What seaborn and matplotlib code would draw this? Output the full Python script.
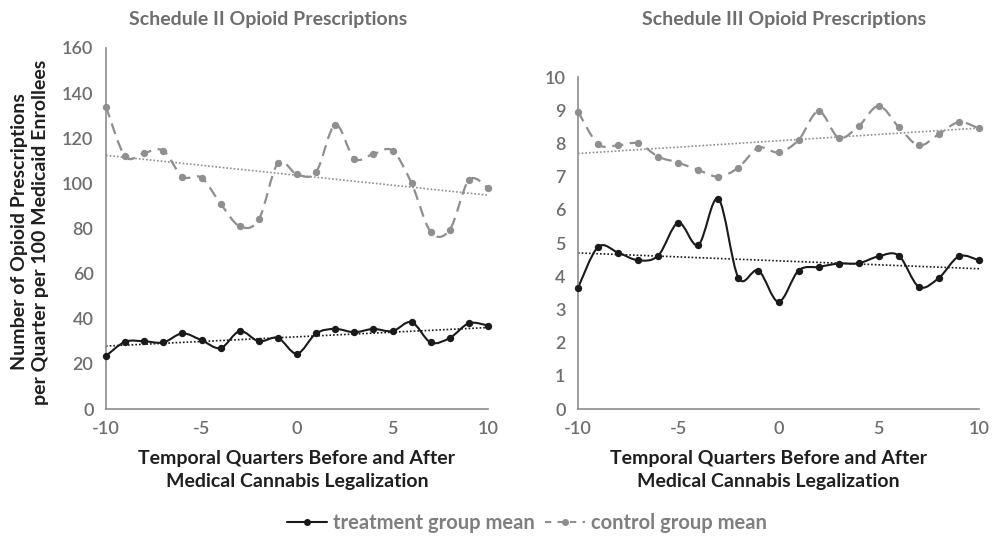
import numpy as np
import pandas as pd
import matplotlib
matplotlib.use("Agg")
import matplotlib.pyplot as plt
from matplotlib.path import Path
from matplotlib.patches import PathPatch
from matplotlib.lines import Line2D
import seaborn as sns

# quarters relative to legalization
quarters = list(range(-10, 11))

# Schedule II (per 100 enrollees)
sched2_treatment = [23.5, 29.8, 30.0, 29.5, 33.5, 30.5, 27.0, 34.5, 30.0, 31.5, 24.5,
                    33.5, 35.5, 34.0, 35.5, 34.5, 38.5, 29.5, 31.5, 38.0, 37.0]
sched2_control = [134.0, 112.0, 113.5, 114.5, 103.0, 102.5, 91.0, 81.0, 84.0, 109.0, 104.0,
                  105.0, 126.0, 111.0, 113.0, 114.5, 100.0, 78.5, 79.5, 101.5, 98.0]

# Schedule III
sched3_treatment = [3.65, 4.88, 4.71, 4.48, 4.62, 5.61, 4.94, 6.33, 3.95, 4.17, 3.23,
                    4.17, 4.28, 4.38, 4.39, 4.60, 4.62, 3.68, 3.95, 4.60, 4.48]
sched3_control = [8.96, 7.98, 7.94, 8.00, 7.60, 7.42, 7.20, 7.00, 7.27, 7.87, 7.73,
                  8.10, 8.97, 8.17, 8.52, 9.13, 8.49, 7.94, 8.28, 8.64, 8.45]

titles = ["Schedule II Opioid Prescriptions", "Schedule III Opioid Prescriptions"]
xlabel = "Temporal Quarters Before and After\nMedical Cannabis Legalization"
ylabel = "Number of Opioid Prescriptions\nper Quarter per 100 Medicaid Enrollees"

TXT = "#6e6e6e"
DARK = "#1f1f1f"
AX = "#8c8c8c"
TREAT = "#1a1a1a"
CTRL = "#8f8f8f"

sns.set_style("white")
plt.rcParams["font.family"] = ["Lato", "DejaVu Sans"]
plt.rcParams["axes.unicode_minus"] = False


def smooth_path(x, y):
    # excel-style smoothed line: cubic bezier segments through each point
    x = np.asarray(x, float)
    y = np.asarray(y, float)
    pts = np.column_stack([x, y])
    verts = [pts[0]]
    codes = [Path.MOVETO]
    n = len(pts)
    for i in range(n - 1):
        p0 = pts[i - 1] if i > 0 else pts[i]
        p1 = pts[i]
        p2 = pts[i + 1]
        p3 = pts[i + 2] if i + 2 < n else pts[i + 1]
        verts += [p1 + (p2 - p0) / 6, p2 - (p3 - p1) / 6, p2]
        codes += [Path.CURVE4] * 3
    return Path(verts, codes)


def draw_panel(ax, treat, ctrl, ymax, ystep):
    df = pd.DataFrame({"q": quarters, "treat": treat, "ctrl": ctrl})
    for col, color, ls, lw in [("ctrl", CTRL, (0, (5, 3)), 1.6), ("treat", TREAT, "-", 1.5)]:
        patch = PathPatch(smooth_path(df["q"], df[col]), facecolor="none",
                          edgecolor=color, lw=lw, linestyle=ls, clip_on=False)
        ax.add_patch(patch)
        sns.scatterplot(data=df, x="q", y=col, ax=ax, color=color, s=28,
                        edgecolor=color, linewidth=0, clip_on=False, zorder=3)
        sns.regplot(data=df, x="q", y=col, ax=ax, scatter=False, ci=None,
                    truncate=True, line_kws=dict(color=color, lw=1.2, ls=(0, (1, 1.2))))
    ax.set_xlim(-10, 10)
    ax.set_ylim(0, ymax)
    ax.set_xticks([-10, -5, 0, 5, 10])
    ax.set_yticks(np.arange(0, ymax + ystep / 2, ystep))
    ax.set_xlabel("")
    ax.set_ylabel("")
    for s in ["top", "right"]:
        ax.spines[s].set_visible(False)
    for s in ["left", "bottom"]:
        ax.spines[s].set_color(AX)
        ax.spines[s].set_linewidth(1.2)
    ax.tick_params(axis="x", direction="in", length=5, color=AX, labelsize=13,
                   labelcolor=TXT, pad=9)
    ax.tick_params(axis="y", direction="out", length=5, color=AX, labelsize=13,
                   labelcolor=TXT, pad=4)
    for lab in ax.get_xticklabels() + ax.get_yticklabels():
        lab.set_fontweight("semibold")


fig = plt.figure(figsize=(9.93, 5.4), dpi=100)
ax1 = fig.add_axes([106 / 993, 1 - 409 / 540, 382 / 993, 361 / 540])
ax2 = fig.add_axes([578 / 993, 1 - 409 / 540, 401 / 993, 332 / 540])

draw_panel(ax1, sched2_treatment, sched2_control, 160, 20)
draw_panel(ax2, sched3_treatment, sched3_control, 10, 1)

fig.text(268 / 993, 1 - 19 / 540, titles[0], ha="center", va="center",
         fontsize=14, fontweight="bold", color=TXT)
fig.text(784 / 993, 1 - 19 / 540, titles[1], ha="center", va="center",
         fontsize=14, fontweight="bold", color=TXT)
fig.text(297 / 993, 1 - 470 / 540, xlabel, ha="center", va="center",
         fontsize=14, fontweight="bold", color=DARK, linespacing=1.45)
fig.text(768 / 993, 1 - 470 / 540, xlabel, ha="center", va="center",
         fontsize=14, fontweight="bold", color=DARK, linespacing=1.45)
fig.text(30 / 993, 1 - 232 / 540, ylabel, ha="center", va="center", rotation=90,
         fontsize=14, fontweight="bold", color=DARK, linespacing=1.35)

handles = [
    Line2D([], [], color=TREAT, lw=1.5, marker="o", markersize=4),
    Line2D([], [], color=CTRL, lw=1.5, ls=(0, (3, 3)), marker="o", markersize=4),
]
leg = fig.legend(handles, ["treatment group mean", "control group mean"],
                 loc="center", bbox_to_anchor=(527 / 993, 1 - 523 / 540), ncol=2,
                 frameon=False, handlelength=2.0, handletextpad=0.3, columnspacing=0.5,
                 prop=dict(family=["Lato", "DejaVu Sans"], weight="bold", size=14.5))
for t in leg.get_texts():
    t.set_color("#7f7f7f")

fig.savefig("out.png", dpi=100, facecolor="white")
